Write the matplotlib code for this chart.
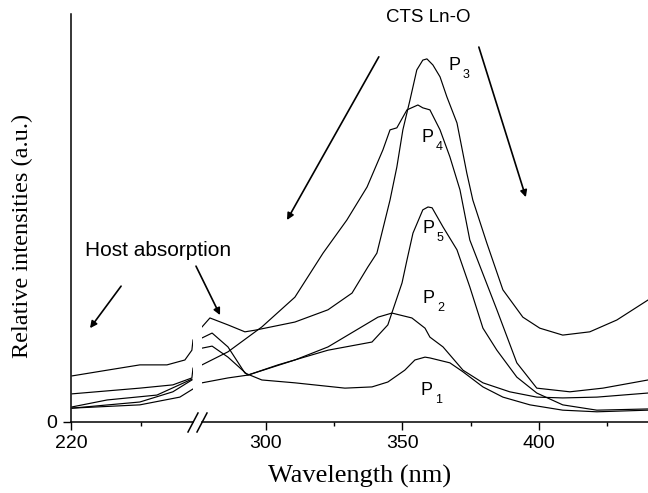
import matplotlib
matplotlib.use("Agg")
import matplotlib.pyplot as plt
from matplotlib.lines import Line2D

# spectra: wavelength (nm) / relative intensity (a.u., axis top = 100)
# left part of the broken axis (220 - ~264 nm)
p1_left_nm = [220.4, 244.6, 256.4, 263.2, 263.6]
p1_left_val = [6.9, 8.3, 9.1, 10.8, 13.2]
p2_left_nm = [220.4, 244.6, 258.9, 263.6]
p2_left_val = [3.4, 4.2, 6.1, 8.1]
p3_left_nm = [220.4, 232.9, 244.6, 254.3, 260.7, 263.2, 263.6]
p3_left_val = [11.3, 12.7, 14.0, 14.0, 15.2, 17.6, 20.1]
p4_left_nm = [220.4, 244.6, 256.4, 263.2]
p4_left_val = [3.4, 4.9, 7.4, 10.3]
p5_left_nm = [220.4, 232.9, 250.7, 263.2]
p5_left_val = [3.7, 5.4, 6.6, 10.5]

# right part (~277 - 440 nm)
p1_right_nm = [276.7, 280.4, 286.2, 292.4, 298.6, 310.7, 329.0, 338.9, 344.7, 350.9,
               354.6, 358.3, 360.1, 367.4, 372.2, 379.5, 386.8, 396.7, 408.7, 421.2, 439.9]
p1_right_val = [20.6, 21.8, 18.4, 12.0, 10.3, 9.6, 8.3, 8.6, 9.8, 12.7,
                15.2, 15.9, 15.7, 14.5, 12.3, 8.6, 6.1, 4.2, 2.9, 2.5, 2.9]
p2_right_nm = [276.7, 286.2, 293.5, 310.7, 322.8, 341.1, 346.2, 353.5, 358.3, 360.1,
               364.9, 372.2, 379.5, 389.3, 399.2, 408.7, 421.2, 439.9]
p2_right_val = [9.6, 10.8, 11.5, 15.2, 18.4, 25.7, 26.7, 25.5, 23.0, 20.8,
                18.4, 12.7, 9.6, 7.4, 6.1, 5.9, 6.1, 7.1]
p3_right_nm = [276.7, 279.6, 286.2, 292.4, 296.1, 310.7, 322.8, 331.6, 337.4, 340.7,
               345.5, 348.0, 350.2, 352.8, 355.3, 357.5, 359.0, 361.2, 363.8, 366.3,
               370.0, 373.6, 375.8, 380.9, 386.8, 394.1, 400.3, 408.7, 418.6, 428.5, 439.9]
p3_right_val = [23.3, 25.5, 23.8, 22.1, 22.5, 24.5, 27.5, 31.6, 38.0, 41.4,
                54.4, 62.5, 71.6, 78.9, 86.3, 88.7, 89.0, 87.5, 84.6, 79.7,
                73.3, 61.0, 54.4, 43.9, 32.4, 25.7, 23.0, 21.3, 22.1, 25.0, 29.9]
p4_right_nm = [276.7, 286.2, 298.6, 310.7, 321.0, 329.7, 337.1, 342.9, 345.5, 348.0,
               351.7, 355.7, 357.5, 360.1, 363.8, 367.4, 371.1, 374.7, 384.6, 391.9,
               399.2, 411.3, 423.4, 439.9]
p4_right_val = [14.0, 17.2, 23.3, 30.6, 41.4, 49.5, 57.6, 66.7, 71.6, 72.1,
                76.5, 77.7, 77.0, 76.5, 71.6, 65.0, 56.9, 44.6, 27.5, 14.5,
                8.3, 7.4, 8.3, 10.3]
p5_right_nm = [276.7, 280.4, 286.2, 293.5, 304.5, 322.8, 338.9, 344.7, 349.9, 351.7,
               353.9, 357.5, 359.4, 360.9, 364.9, 370.0, 374.7, 379.5, 384.6, 391.9,
               399.2, 408.7, 421.2, 439.9]
p5_right_val = [18.1, 18.6, 15.9, 11.5, 14.0, 17.6, 19.6, 23.8, 34.1, 39.7,
                46.3, 52.0, 52.7, 52.5, 47.8, 42.2, 33.1, 23.0, 17.6, 11.0,
                7.1, 4.2, 2.9, 3.2]

sample_labels = ["1", "2", "3", "4", "5"]
# label anchor (nm, value) of the "P" letter
label_nm = [356.8, 357.5, 367.0, 357.2, 357.5]
label_val = [6.6, 29.2, 86.3, 68.6, 46.3]

W, H = 648, 493
sans = ["Liberation Sans", "DejaVu Sans"]
serif = ["Liberation Serif", "DejaVu Serif"]
plt.rcParams["font.family"] = sans


def fx(px):
    return px / W


def fy(py):
    return 1 - py / H


fig = plt.figure(figsize=(6.48, 4.93), dpi=100)
ax_l = fig.add_axes([fx(71), fy(422), fx(193) - fx(71), fy(14) - fy(422)])
ax_r = fig.add_axes([fx(202), fy(422), fx(648) - fx(202), fy(14) - fy(422)])

line_kw = dict(color="black", lw=0.85)
for nm, val in [(p1_left_nm, p1_left_val), (p2_left_nm, p2_left_val), (p3_left_nm, p3_left_val),
                (p4_left_nm, p4_left_val), (p5_left_nm, p5_left_val)]:
    ax_l.plot(nm, val, **line_kw)
for nm, val in [(p1_right_nm, p1_right_val), (p2_right_nm, p2_right_val), (p3_right_nm, p3_right_val),
                (p4_right_nm, p4_right_val), (p5_right_nm, p5_right_val)]:
    ax_r.plot(nm, val, **line_kw)

ax_l.set_xlim(220, 263.6)
ax_r.set_xlim(276.7, 439.9)
for ax in (ax_l, ax_r):
    ax.set_ylim(0, 100)
    for s in ("top", "right"):
        ax.spines[s].set_visible(False)
    ax.spines["bottom"].set_linewidth(1.1)
    ax.tick_params(axis="both", which="major", direction="out", length=5.8, width=1.0,
                   labelsize=14, pad=3.5)
    ax.tick_params(axis="x", which="minor", direction="out", length=3, width=1.0)
ax_r.spines["left"].set_visible(False)
ax_l.spines["left"].set_linewidth(1.1)

ax_l.set_xticks([220])
ax_l.set_xticks([245], minor=True)
ax_l.set_yticks([0])
ax_l.tick_params(axis="y", pad=4)
ax_r.set_xticks([300, 350, 400])
ax_r.set_xticks([325, 375, 425], minor=True)
ax_r.set_yticks([])

# break marks on the x axis
for x0 in (188, 197):
    fig.add_artist(Line2D([fx(x0), fx(x0 + 10)], [fy(432), fy(413)], color="black", lw=1.1))

# sample labels P1..P5 with subscripts
for lab, x, y in zip(sample_labels, label_nm, label_val):
    ax_r.text(x, y, "P", fontsize=13, ha="left", va="baseline")
    ax_r.annotate(lab, xy=(x, y), xytext=(14, -8), textcoords="offset pixels",
                  fontsize=9, ha="left", va="baseline")

# annotations
arrow_kw = dict(arrowstyle="-|>", color="black", lw=1.2, mutation_scale=10, shrinkA=0, shrinkB=0)
fig.text(fx(85), fy(250), "Host absorption", fontsize=15, ha="left", va="center")
ax_l.annotate("", xy=(226.8, 23.0), xytext=(237.9, 33.3), arrowprops=arrow_kw)
ax_r.annotate("", xy=(283.3, 26.2), xytext=(274.5, 38.2), arrowprops=arrow_kw,
              annotation_clip=False)
fig.text(fx(428), fy(18), "CTS Ln-O", fontsize=13.5, ha="center", va="center")
ax_r.annotate("", xy=(307.8, 49.5), xytext=(341.4, 89.5), arrowprops=arrow_kw)
ax_r.annotate("", xy=(395.2, 55.1), xytext=(378.0, 91.9), arrowprops=arrow_kw)

fig.text(fx(360), fy(476), "Wavelength (nm)", fontsize=19, family=serif,
         ha="center", va="center")
fig.text(fx(22), fy(236), "Relative intensities (a.u.)", fontsize=17.5, family=serif,
         rotation=90, ha="center", va="center")

fig.savefig("out.png", dpi=100)
